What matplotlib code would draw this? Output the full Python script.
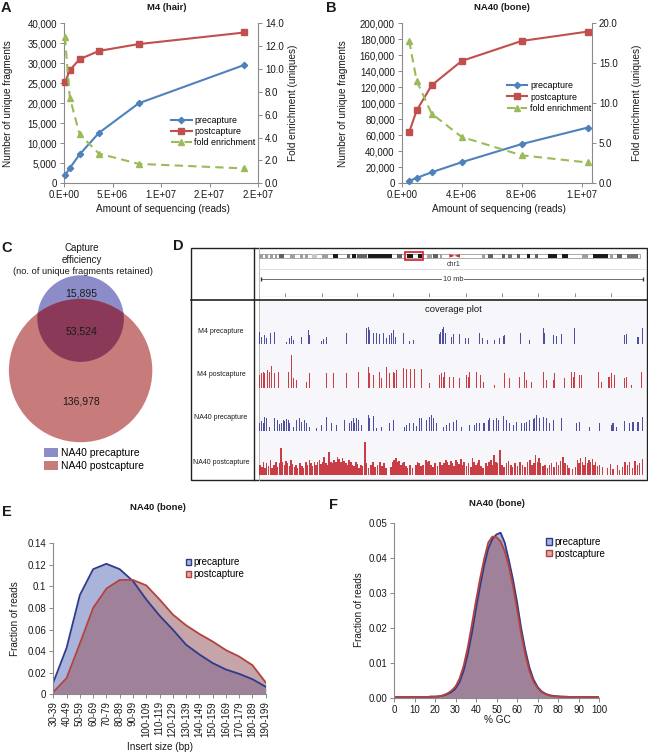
import numpy as np
import matplotlib
matplotlib.use('Agg')
import matplotlib.pyplot as plt
from matplotlib.patches import Circle, Rectangle, Polygon, Patch

plt.rcParams['font.family'] = ['Liberation Sans', 'DejaVu Sans']

# ---- A: M4 (hair) ----
a_reads = [0.1e6, 0.6e6, 1.6e6, 3.6e6, 7.7e6, 18.6e6]
a_pre = [2000, 3800, 7200, 12600, 20000, 29600]
a_post = [25200, 28300, 31000, 33100, 34800, 37700]
a_fold = [12.8, 7.5, 4.3, 2.6, 1.7, 1.3]

# ---- B: NA40 (bone) ----
b_reads = [0.5e6, 1e6, 2e6, 4e6, 8e6, 12.4e6]
b_pre = [3000, 6700, 13800, 26300, 49000, 69600]
b_post = [63800, 91200, 122500, 152900, 177900, 189600]
b_fold = [17.8, 12.8, 8.7, 5.8, 3.5, 2.6]

# ---- C: venn ----
venn_pre_only = 15895
venn_shared = 53524
venn_post_only = 136978

# ---- D: chr1 ideogram (Mb) and coverage (bin, depth) ----
chr_len = 249.0
band_start = [0.4, 3.7, 7.0, 10.2, 13.1, 20.1, 26.6, 29.9, 34.2, 40.8, 48.0, 57.1, 60.4, 64.1, 71.3,
              89.8, 96.4, 104.0, 109.4, 113.8, 118.2, 145.8, 149.8, 158.5, 162.8, 168.3, 174.8, 180.3,
              189.0, 197.7, 210.8, 218.4, 229.3, 233.7, 240.2]
band_end = [2.6, 5.9, 9.2, 11.8, 16.4, 23.3, 28.8, 32.0, 37.5, 45.1, 51.7, 59.3, 63.2, 70.2, 86.5,
            93.1, 100.7, 106.2, 112.7, 117.1, 119.2, 147.6, 153.0, 160.7, 165.0, 170.5, 177.0, 182.5,
            194.5, 202.1, 215.2, 228.2, 231.5, 237.0, 247.9]
band_gray = [0.62, 0.62, 0.62, 0.62, 0.38, 0.62, 0.62, 0.62, 0.78, 0.62, 0.1, 0.38, 0.1, 0.38, 0.1,
             0.38, 0.1, 0.1, 0.62, 0.38, 0.62, 0.62, 0.38, 0.38, 0.45, 0.38, 0.1, 0.38, 0.1, 0.1,
             0.62, 0.1, 0.62, 0.38, 0.45]
cen_start, cen_end = 124.3, 131.2
view_start, view_end = 95.3, 107.3
n_bins = 1152
ruler_bins = [77, 187, 294, 402, 510, 622, 730, 838, 947, 1057]

m4_pre = [(2, 38), (7, 23), (17, 28), (22, 18), (35, 35), (47, 38), (82, 8), (90, 18), (97, 25), (102, 13),
          (127, 21), (147, 43), (150, 28), (187, 10), (192, 15), (202, 23), (262, 35), (322, 48), (327, 53),
          (332, 43), (344, 33), (352, 35), (362, 31), (372, 33), (382, 18), (390, 28), (397, 35), (404, 43),
          (410, 23), (432, 35), (452, 11), (462, 13), (540, 31), (545, 38), (550, 45), (554, 51), (559, 33),
          (577, 23), (582, 31), (602, 31), (620, 18), (627, 18), (662, 35), (669, 18), (684, 13), (707, 13),
          (722, 18), (732, 25), (737, 28), (784, 33), (812, 13), (854, 48), (857, 33), (882, 28), (892, 25),
          (907, 31), (947, 48), (1097, 28), (1102, 31), (1137, 23), (1150, 48)]
m4_post = [(2, 38), (7, 43), (12, 48), (17, 45), (24, 53), (30, 48), (37, 65), (47, 43), (57, 48), (87, 48),
           (97, 98), (102, 28), (112, 23), (142, 18), (150, 43), (202, 43), (222, 43), (262, 43), (297, 48),
           (327, 63), (332, 43), (342, 38), (362, 48), (367, 28), (382, 63), (392, 43), (402, 48), (407, 43),
           (412, 53), (432, 58), (442, 55), (454, 55), (467, 55), (487, 55), (512, 13), (542, 38), (547, 43),
           (552, 33), (557, 48), (572, 33), (584, 33), (602, 28), (622, 38), (627, 33), (632, 48), (652, 48),
           (665, 38), (672, 18), (707, 8), (737, 43), (752, 28), (782, 33), (797, 48), (802, 23), (817, 18),
           (854, 46), (862, 23), (882, 23), (887, 43), (917, 28), (937, 46), (942, 33), (947, 48), (962, 38),
           (967, 38), (1017, 48), (1027, 18), (1050, 33), (1057, 43), (1067, 38), (1097, 28), (1102, 33),
           (1117, 8), (1147, 48)]
na_pre = [(2, 23), (7, 30), (12, 23), (17, 43), (22, 38), (32, 13), (47, 38), (54, 33), (62, 20), (67, 25),
          (72, 33), (77, 31), (82, 35), (87, 33), (92, 23), (102, 13), (112, 33), (122, 38), (127, 28),
          (137, 33), (142, 23), (152, 13), (172, 8), (187, 18), (202, 43), (217, 23), (232, 18), (257, 33),
          (272, 23), (277, 31), (282, 38), (287, 25), (292, 38), (297, 33), (307, 18), (327, 48), (332, 38),
          (342, 45), (352, 8), (367, 13), (392, 23), (402, 33), (437, 13), (442, 18), (452, 23), (462, 25),
          (472, 15), (482, 38), (487, 38), (502, 33), (512, 43), (517, 48), (522, 38), (532, 23), (552, 13),
          (562, 18), (572, 23), (582, 28), (592, 33), (607, 13), (632, 18), (647, 18), (652, 23), (662, 23),
          (672, 25), (677, 23), (687, 33), (692, 38), (702, 33), (712, 38), (717, 33), (732, 45), (742, 33),
          (752, 23), (762, 18), (772, 28), (787, 23), (797, 23), (802, 28), (812, 33), (822, 35), (827, 38),
          (832, 48), (842, 38), (852, 43), (862, 38), (872, 23), (882, 33), (907, 38), (952, 23), (962, 28),
          (992, 13), (1022, 23), (1057, 18), (1062, 23), (1072, 13), (1097, 31), (1112, 23), (1122, 28),
          (1137, 28), (1150, 43)]
na_post = [(2, 30), (8, 25), (12, 40), (17, 22), (22, 35), (28, 28), (33, 45), (38, 20), (44, 30), (50, 38),
           (55, 25), (60, 35), (65, 80), (70, 40), (75, 30), (80, 42), (85, 35), (90, 28), (95, 45), (100, 32),
           (105, 25), (110, 30), (115, 20), (122, 35), (128, 28), (133, 22), (140, 38), (145, 30), (150, 45),
           (155, 35), (160, 28), (165, 40), (170, 30), (175, 38), (180, 45), (185, 32), (190, 40), (195, 55),
           (200, 35), (205, 30), (210, 70), (215, 40), (220, 35), (225, 45), (230, 40), (235, 55), (240, 48),
           (245, 38), (250, 50), (255, 42), (260, 35), (265, 30), (270, 45), (275, 38), (280, 30), (285, 28),
           (290, 40), (295, 32), (300, 22), (305, 30), (310, 28), (317, 98), (322, 35), (328, 20), (335, 30),
           (342, 38), (348, 25), (355, 30), (362, 40), (368, 28), (375, 35), (380, 22), (395, 25), (400, 40),
           (405, 45), (410, 50), (415, 38), (420, 42), (425, 30), (430, 35), (435, 40), (440, 28), (445, 20),
           (452, 30), (460, 22), (470, 30), (475, 40), (480, 35), (485, 28), (492, 30), (500, 45), (505, 38),
           (510, 42), (515, 30), (522, 25), (528, 35), (535, 28), (542, 40), (548, 30), (555, 35), (560, 45),
           (565, 38), (570, 30), (575, 42), (580, 35), (585, 28), (590, 45), (595, 40), (600, 32), (605, 48),
           (610, 30), (615, 38), (622, 28), (628, 35), (635, 25), (640, 50), (645, 38), (650, 30), (655, 35),
           (660, 45), (665, 28), (672, 20), (680, 35), (685, 28), (690, 40), (695, 45), (700, 30), (705, 60),
           (710, 40), (715, 35), (722, 75), (728, 30), (735, 25), (742, 35), (748, 42), (755, 30), (760, 25),
           (768, 35), (775, 28), (782, 40), (790, 30), (798, 25), (805, 38), (812, 45), (818, 30), (825, 35),
           (830, 60), (835, 40), (840, 50), (845, 35), (852, 28), (858, 30), (865, 22), (872, 30), (878, 35),
           (885, 25), (892, 40), (898, 30), (905, 42), (912, 55), (918, 35), (925, 30), (930, 20), (940, 18),
           (950, 25), (955, 45), (960, 35), (965, 50), (970, 40), (975, 30), (980, 55), (985, 35), (990, 45),
           (995, 38), (1000, 48), (1005, 30), (1010, 40), (1015, 28), (1022, 30), (1030, 25), (1045, 20),
           (1055, 32), (1062, 18), (1075, 30), (1082, 15), (1090, 25), (1098, 40), (1105, 30), (1112, 38),
           (1120, 22), (1128, 42), (1135, 30), (1142, 35), (1150, 48)]
track_names = ['M4 precapture', 'M4 postcapture', 'NA40 precapture', 'NA40 postcapture']

# ---- E: insert size ----
size_bins = ['30-39', '40-49', '50-59', '60-69', '70-79', '80-89', '90-99', '100-109', '110-119',
             '120-129', '130-139', '140-149', '150-159', '160-169', '170-179', '180-189', '190-199']
size_pre = [0.011, 0.043, 0.092, 0.116, 0.121, 0.116, 0.105, 0.088, 0.073, 0.060, 0.046, 0.037,
            0.029, 0.023, 0.019, 0.014, 0.007]
size_post = [0.002, 0.015, 0.047, 0.080, 0.098, 0.106, 0.106, 0.101, 0.088, 0.074, 0.064, 0.056,
             0.049, 0.041, 0.035, 0.027, 0.011]

# ---- F: GC content ----
gc = list(range(0, 101, 2))
gc_pre = [0.0002, 0.0002, 0.0002, 0.0002, 0.0002, 0.0002, 0.0002, 0.0002, 0.0002, 0.0003, 0.0003,
          0.0004, 0.0006, 0.0010, 0.0016, 0.0026, 0.0045, 0.0078, 0.0125, 0.0185, 0.0255, 0.0320,
          0.0380, 0.0428, 0.0455, 0.0468, 0.0473, 0.0445, 0.0395, 0.0340, 0.0275, 0.0200, 0.0138,
          0.0088, 0.0053, 0.0031, 0.0018, 0.0011, 0.0007, 0.0005, 0.0004, 0.0003, 0.0003, 0.0002,
          0.0002, 0.0002, 0.0002, 0.0002, 0.0002, 0.0002, 0.0002]
gc_post = [0.0002, 0.0002, 0.0002, 0.0002, 0.0002, 0.0002, 0.0002, 0.0002, 0.0002, 0.0003, 0.0003,
           0.0004, 0.0007, 0.0012, 0.0020, 0.0032, 0.0055, 0.0092, 0.0145, 0.0210, 0.0278, 0.0342,
           0.0398, 0.0445, 0.0462, 0.0460, 0.0448, 0.0420, 0.0378, 0.0322, 0.0255, 0.0185, 0.0125,
           0.0078, 0.0047, 0.0028, 0.0016, 0.0010, 0.0006, 0.0004, 0.0003, 0.0003, 0.0002, 0.0002,
           0.0002, 0.0002, 0.0002, 0.0002, 0.0002, 0.0002, 0.0002]

BLUE = '#4f81bd'
RED = '#c0504d'
GREEN = '#9bbb59'
AXC = '#8a8a8a'
TXT = '#1a1a1a'

W, H = 648, 753
fig = plt.figure(figsize=(W / 100, H / 100), dpi=100)


def px_axes(x0, y0, x1, y1, **kw):
    return fig.add_axes([x0 / W, 1 - y1 / H, (x1 - x0) / W, (y1 - y0) / H], **kw)


def ftext(x, y, s, **kw):
    kw.setdefault('ha', 'center')
    kw.setdefault('va', 'center')
    kw.setdefault('color', TXT)
    fig.text(x / W, 1 - y / H, s, **kw)


def style(ax, sides=('left', 'bottom')):
    for k, sp in ax.spines.items():
        sp.set_visible(k in sides)
        sp.set_color(AXC)
        sp.set_linewidth(0.8)
    ax.tick_params(direction='out', length=3, width=0.7, color=AXC, labelsize=7,
                   labelcolor=TXT, pad=2)
    ax.set_facecolor('none')


# overlay in pixel units (venn, D frame)
ov = fig.add_axes([0, 0, 1, 1])
ov.set_xlim(0, W)
ov.set_ylim(H, 0)
ov.axis('off')


# ---------------- A and B ----------------
def growth_panel(box, reads, pre, post, fold, xmax, xticks, ymax, ystep, fmax, fstep,
                 title, tx, letter, lx, legend_xy, ylab_x):
    ax = px_axes(*box)
    style(ax, ('left', 'bottom'))
    ax.plot(reads, pre, color=BLUE, lw=1.5, marker='D', ms=3.2, label='precapture', clip_on=False, zorder=3)
    ax.plot(reads, post, color=RED, lw=1.5, marker='s', ms=4.2, label='postcapture', clip_on=False, zorder=3)
    ax.set_xlim(0, xmax)
    ax.set_ylim(0, ymax)
    ax.set_xticks(xticks)
    ax.set_xticklabels(['{:#.0E}'.format(v) for v in xticks])
    yt = np.arange(0, ymax + 1, ystep)
    ax.set_yticks(yt)
    ax.set_yticklabels(['{:,}'.format(int(v)) for v in yt])
    ax2 = ax.twinx()
    style(ax2, ('right',))
    ax2.plot(reads, fold, color=GREEN, lw=1.5, ls=(0, (4, 2.5)), marker='^', ms=4,
             label='fold enrichment', clip_on=False, zorder=3)
    ax2.set_ylim(0, fmax)
    ft = np.arange(0, fmax + 0.01, fstep)
    ax2.set_yticks(ft)
    ax2.set_yticklabels(['{:.1f}'.format(v) for v in ft])
    h1, l1 = ax.get_legend_handles_labels()
    h2, l2 = ax2.get_legend_handles_labels()
    ax2.legend(h1 + h2, l1 + l2, loc='upper left', bbox_to_anchor=legend_xy, frameon=False,
               fontsize=6.4, handlelength=2.3, labelspacing=0.25, borderpad=0, handletextpad=0.3)
    x0, y0, x1, y1 = box
    ftext(tx, 7, title, fontsize=6.8, fontweight='bold')
    ftext(lx, 8, letter, fontsize=10.5, fontweight='bold', ha='left')
    ftext(ylab_x[0], (y0 + y1) / 2, 'Number of unique fragments', fontsize=7.2, rotation=90)
    ftext(ylab_x[1], (y0 + y1) / 2, 'Fold enrichment (uniques)', fontsize=7.2, rotation=90)
    ftext((x0 + x1) / 2 + 2, 209, 'Amount of sequencing (reads)', fontsize=7.2)
    return ax


growth_panel((64, 23.3, 258, 183.3), a_reads, a_pre, a_post, a_fold, 2e7,
             [0, 5e6, 1e7, 1.5e7, 2e7], 40000, 5000, 14, 2, 'M4 (hair)', 167, 'A', 1,
             (0.53, 0.45), (8, 293))
growth_panel((401.7, 23.3, 592, 183.3), b_reads, b_pre, b_post, b_fold, 12.7e6,
             [0, 4e6, 8e6, 12e6], 200000, 20000, 20, 5, 'NA40 (bone)', 502, 'B', 326,
             (0.53, 0.665), (343, 637))

# ---------------- C: venn ----------------
VB = '#8c8cc8'
VR = '#c77b7b'
VO = '#8a3a58'
r_big = 71.7
r_small = r_big * np.sqrt((venn_pre_only + venn_shared) / (venn_shared + venn_post_only))
cx = 80.6
cy_small = 275.3 + r_small
cy_big = 298.8 + r_big
ov.add_patch(Circle((cx, cy_small), r_small, fc=VB, ec='none'))
big = Circle((cx, cy_big), r_big, fc=VR, ec='none')
ov.add_patch(big)
inner = Circle((cx, cy_small), r_small, fc=VO, ec='none')
ov.add_patch(inner)
inner.set_clip_path(big)
ov.text(cx + 1, 293, '{:,}'.format(venn_pre_only), fontsize=7.5, ha='center', va='center', color=TXT)
ov.text(cx + 1, 331, '{:,}'.format(venn_shared), fontsize=7.5, ha='center', va='center', color=TXT)
ov.text(cx, 401, '{:,}'.format(venn_post_only), fontsize=7.5, ha='center', va='center', color=TXT)
ftext(82, 248, 'Capture', fontsize=7)
ftext(82, 260, 'efficiency', fontsize=7)
ftext(82.5, 272, '(no. of unique fragments retained)', fontsize=6.7)
ftext(1, 248, 'C', fontsize=10.5, fontweight='bold', ha='left')
ov.legend([Patch(fc=VB, ec='none'), Patch(fc=VR, ec='none')], ['NA40 precapture', 'NA40 postcapture'],
          loc='upper left', bbox_to_anchor=(44 / W, 1 - 448 / H), bbox_transform=fig.transFigure,
          frameon=False, fontsize=7.5, handlelength=1.3, handleheight=0.95, handletextpad=0.35,
          labelspacing=0.3, borderpad=0, borderaxespad=0)

# ---------------- D: genome browser ----------------
ftext(173, 246, 'D', fontsize=10.5, fontweight='bold', ha='left')
ov.add_patch(Rectangle((259, 300.5), 386.5, 179, fc='#f7f7fb', ec='none'))
ov.add_patch(Rectangle((190.7, 248.3), 455.8, 231.7, fill=False, ec='#222222', lw=1.0))
ov.plot([254, 254], [248.3, 480], color='#222222', lw=1.0)
ov.plot([258.7, 258.7], [248.3, 480], color='#b0b0b0', lw=0.6)
ov.plot([190.7, 646.5], [300, 300], color='#222222', lw=1.2)
ov.plot([259, 645], [268.5, 268.5], color='#d8d8d8', lw=0.6)
ov.plot([261, 643], [279, 279], color='#555555', lw=0.6)
ov.plot([261, 643], [279, 279], ls='none', marker='|', ms=2.5, color='#333333')
ov.text(453, 279, '10 mb', fontsize=5.3, ha='center', va='center', color='#333333',
        bbox=dict(fc='white', ec='none', pad=0.6))
ov.text(454, 264, 'chr1', fontsize=5, ha='center', va='center', color='#333333')
ov.text(453, 309, 'coverage plot', fontsize=6.8, ha='center', va='center', color=TXT)

ideo = px_axes(259.3, 254, 640, 257.7)
ideo.set_xlim(0, chr_len)
ideo.set_ylim(0, 1)
ideo.axis('off')
ideo.add_patch(Rectangle((0, 0), chr_len, 1, fc='white', ec='#888888', lw=0.5, clip_on=False))
ideo.bar(band_start, [1] * len(band_start), width=np.subtract(band_end, band_start), align='edge',
         color=[str(g) for g in band_gray], lw=0)
ideo.add_patch(Polygon([(cen_start, 0), (cen_start, 1), ((cen_start + cen_end) / 2, 0.5)],
                       fc='#c42a30', ec='none'))
ideo.add_patch(Polygon([(cen_end, 0), (cen_end, 1), ((cen_start + cen_end) / 2, 0.5)],
                       fc='#c42a30', ec='none'))
ideo.add_patch(Rectangle((view_start, -0.55), view_end - view_start, 2.1, fill=False, ec='#d0202a',
                         lw=1.2, clip_on=False))

ruler = px_axes(259.3, 291, 643, 297.3)
ruler.set_xlim(0, n_bins)
ruler.set_ylim(0, 1)
ruler.axis('off')
ruler.vlines(ruler_bins, 0, 0.7, color='#777777', lw=0.6)
ruler.axhline(0, color='#777777', lw=0.8)

baselines = [344.3, 387.7, 431, 475]
track_colors = ['#3d3d96', '#c42a30', '#3d3d96', '#c42a30']
for data, base, col, name in zip([m4_pre, m4_post, na_pre, na_post], baselines, track_colors, track_names):
    tax = px_axes(259.3, base - 35, 643, base)
    tax.set_xlim(0, n_bins)
    tax.set_ylim(0, 105)
    tax.axis('off')
    pos, cov = zip(*data)
    w = 4.5 if name == 'NA40 postcapture' else 3.2
    tax.bar(pos, cov, width=w, color=col, lw=0, alpha=0.9)
    tax.axhline(0, color='#c4c4cc', lw=0.6)
    ftext(221, base - 13, name, fontsize=5)

# ---------------- E: insert size ----------------
axE = px_axes(53.3, 543.3, 265.7, 694.3)
style(axE)
xe = np.arange(len(size_bins))
axE.fill_between(xe, size_pre, color='#aab4da', lw=0)
axE.plot(xe, size_pre, color='#2e3a8c', lw=1.3)
axE.fill_between(xe, size_post, color='#965a64', alpha=0.55, lw=0)
axE.plot(xe, size_post, color='#b5413d', lw=1.3)
axE.set_xlim(0, len(size_bins) - 1)
axE.set_ylim(0, 0.14)
axE.set_xticks(xe)
axE.set_xticklabels(size_bins, rotation=90)
yt = np.round(np.arange(0, 0.141, 0.02), 2)
axE.set_yticks(yt)
axE.set_yticklabels(['{:g}'.format(v) for v in yt])
axE.legend([Patch(fc='#aab4da', ec='#2e3a8c'), Patch(fc='#d9aab0', ec='#b5413d')],
           ['precapture', 'postcapture'], loc='upper left', bbox_to_anchor=(0.6, 0.94),
           frameon=False, fontsize=7, handlelength=0.6, handleheight=0.6, handletextpad=0.2,
           labelspacing=0.2, borderpad=0)
ftext(158, 507, 'NA40 (bone)', fontsize=6.8, fontweight='bold')
ftext(2, 512, 'E', fontsize=10.5, fontweight='bold', ha='left')
ftext(15, 619, 'Fraction of reads', fontsize=7.2, rotation=90)
ftext(160, 747, 'Insert size (bp)', fontsize=7.2)

# ---------------- F: GC ----------------
axF = px_axes(394, 523.3, 599, 697.7)
style(axF)
axF.fill_between(gc, gc_pre, color='#aab4da', lw=0)
axF.plot(gc, gc_pre, color='#2e3a8c', lw=1.3)
axF.fill_between(gc, gc_post, color='#965a64', alpha=0.55, lw=0)
axF.plot(gc, gc_post, color='#b5413d', lw=1.3)
axF.set_xlim(0, 100)
axF.set_ylim(0, 0.05)
axF.set_xticks(range(0, 101, 10))
yt = np.round(np.arange(0, 0.051, 0.01), 2)
axF.set_yticks(yt)
axF.set_yticklabels(['{:.2f}'.format(v) for v in yt])
axF.legend([Patch(fc='#aab4da', ec='#2e3a8c'), Patch(fc='#d9aab0', ec='#b5413d')],
           ['precapture', 'postcapture'], loc='upper left', bbox_to_anchor=(0.72, 0.95),
           frameon=False, fontsize=7, handlelength=0.6, handleheight=0.6, handletextpad=0.2,
           labelspacing=0.2, borderpad=0)
ftext(497, 504, 'NA40 (bone)', fontsize=6.8, fontweight='bold')
ftext(329, 505, 'F', fontsize=10.5, fontweight='bold', ha='left')
ftext(359, 610, 'Fraction of reads', fontsize=7.2, rotation=90)
ftext(497, 720, '% GC', fontsize=7.2)

fig.savefig('out.png', dpi=100)
